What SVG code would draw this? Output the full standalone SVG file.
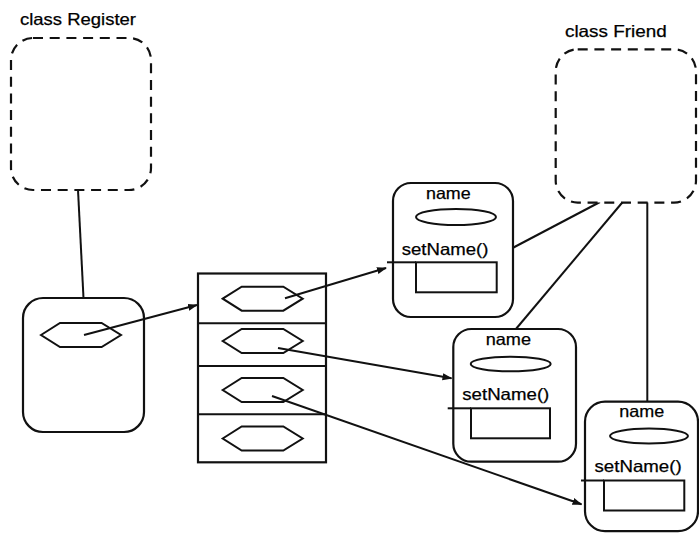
<svg xmlns="http://www.w3.org/2000/svg" width="699" height="533" viewBox="0 0 699 533">
  <defs>
    <style>
      .lbl { font-family: "Liberation Sans", Arial, sans-serif; font-size: 16.5px; fill: #000; stroke: #000; stroke-width: 0.25; }
      .cls { fill: #fff; stroke: #111; stroke-width: 2.2; stroke-dasharray: 10 6.7; }
      .box { fill: #fff; stroke: #111; stroke-width: 2.2; }
      .thin { fill: none; stroke: #111; stroke-width: 2; }
      .conn { fill: none; stroke: #111; stroke-width: 2; }
      .arrow { fill: none; stroke: #111; stroke-width: 2; marker-end: url(#head); }
    </style>
    <marker id="head" viewBox="0 0 10 10" refX="9" refY="5" markerWidth="10" markerHeight="10" markerUnits="userSpaceOnUse" orient="auto">
      <path d="M0,1.5 L10,5 L0,8.5 z" fill="#111"/>
    </marker>
    <!-- pointer slot (hexagon), centred on its own origin -->
    <polygon id="hex" points="-40,0 -21,-12 20.6,-12 40,0 20.6,12 -21,12"/>
  </defs>

  <rect width="699" height="533" fill="#fff"/>

  <!-- plain links -->
  <g id="connectors">
    <line class="conn" x1="78" y1="190" x2="83.5" y2="298"/>
    <line class="conn" x1="600" y1="202" x2="513.5" y2="247.5"/>
    <line class="conn" x1="622.7" y1="202" x2="515.5" y2="329.5"/>
    <line class="conn" x1="647.3" y1="202" x2="647.3" y2="402"/>
  </g>

  <!-- class Register -->
  <g id="class-register">
    <text class="lbl" x="20" y="25" textLength="116" lengthAdjust="spacingAndGlyphs">class Register</text>
    <rect class="cls" x="11" y="38" width="140" height="152" rx="22"/>
  </g>

  <!-- class Friend -->
  <g id="class-friend">
    <text class="lbl" x="565" y="36.7" textLength="101.7" lengthAdjust="spacingAndGlyphs">class Friend</text>
    <rect class="cls" x="555.7" y="49.3" width="140.3" height="153.3" rx="22"/>
  </g>

  <!-- register object holding a pointer to the array -->
  <g id="register-object">
    <rect class="box" x="23" y="298" width="121" height="134" rx="20"/>
    <use href="#hex" x="81" y="335" class="thin"/>
  </g>

  <!-- array of pointers -->
  <g id="pointer-array">
    <rect class="box" x="198" y="273.5" width="128" height="188.8"/>
    <line class="thin" x1="198" y1="323.3" x2="326" y2="323.3"/>
    <line class="thin" x1="198" y1="366" x2="326" y2="366"/>
    <line class="thin" x1="198" y1="414.3" x2="326" y2="414.3"/>
    <use href="#hex" x="262.7" y="298.7" class="thin"/>
    <use href="#hex" x="262.7" y="341" class="thin"/>
    <use href="#hex" x="262.7" y="390" class="thin"/>
    <use href="#hex" x="262.7" y="438.5" class="thin"/>
  </g>

  <!-- Friend object 1 -->
  <g id="friend-1">
    <rect class="box" x="393" y="183" width="120" height="134" rx="18"/>
    <text class="lbl" x="426" y="199" textLength="44.7" lengthAdjust="spacingAndGlyphs">name</text>
    <ellipse class="thin" cx="456" cy="217" rx="40" ry="8"/>
    <text class="lbl" x="401.7" y="255" textLength="86.7" lengthAdjust="spacingAndGlyphs">setName()</text>
    <line class="thin" x1="387" y1="262.3" x2="416" y2="262.3"/>
    <rect class="thin" x="416" y="262.3" width="80.7" height="30"/>
  </g>

  <!-- Friend object 2 -->
  <g id="friend-2">
    <rect class="box" x="453.3" y="329" width="122.7" height="132.7" rx="18"/>
    <text class="lbl" x="485.7" y="345" textLength="45.3" lengthAdjust="spacingAndGlyphs">name</text>
    <ellipse class="thin" cx="510.7" cy="364" rx="40" ry="7.3"/>
    <text class="lbl" x="462.3" y="400" textLength="87" lengthAdjust="spacingAndGlyphs">setName()</text>
    <line class="thin" x1="447.7" y1="408.3" x2="471" y2="408.3"/>
    <rect class="thin" x="471" y="408.3" width="79" height="30"/>
  </g>

  <!-- Friend object 3 -->
  <g id="friend-3">
    <rect class="box" x="585" y="401.7" width="113" height="129.5" rx="20"/>
    <text class="lbl" x="619.3" y="416.7" textLength="45" lengthAdjust="spacingAndGlyphs">name</text>
    <ellipse class="thin" cx="649" cy="436" rx="39" ry="7.5"/>
    <text class="lbl" x="594.5" y="472" textLength="87.2" lengthAdjust="spacingAndGlyphs">setName()</text>
    <line class="thin" x1="581" y1="480.5" x2="604" y2="480.5"/>
    <rect class="thin" x="604" y="480.5" width="80.3" height="30"/>
  </g>

  <!-- pointer arrows -->
  <g id="arrows">
    <line class="arrow" x1="84" y1="335" x2="197" y2="305"/>
    <line class="arrow" x1="285" y1="298.3" x2="386" y2="268"/>
    <line class="arrow" x1="278" y1="348" x2="451.5" y2="378.3"/>
    <line class="arrow" x1="272" y1="396" x2="581.5" y2="504.3"/>
  </g>
</svg>
